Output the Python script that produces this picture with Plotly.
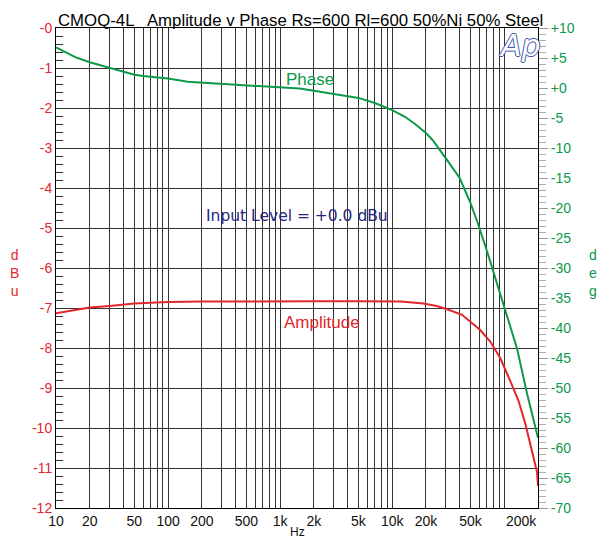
import plotly.graph_objects as go

# ---- data ----
amp_freq = [10, 15, 20, 30, 50, 70, 100, 200, 500, 1000, 2000, 5000, 10000, 12000,
            15000, 19000, 25000, 31000, 42000, 50000, 61000, 75000, 92000, 113000,
            134000, 154000, 177000, 196000, 200000]
amp_dbu = [-7.13, -7.04, -6.99, -6.95, -6.89, -6.87, -6.85, -6.84, -6.83, -6.83, -6.83,
           -6.83, -6.83, -6.84, -6.86, -6.89, -6.95, -7.03, -7.17, -7.34, -7.55, -7.84,
           -8.25, -8.82, -9.32, -9.89, -10.55, -11.1, -11.45]

ph_freq = [10, 15, 20, 30, 40, 50, 60, 80, 100, 150, 200, 300, 500, 1000, 1500, 2000,
           3000, 5000, 7000, 10000, 13000, 16000, 20000, 23000, 30000, 40000, 50000,
           58000, 71000, 100000, 130000, 160000, 200000]
ph_deg = [6.75, 5.1, 4.3, 3.35, 2.8, 2.2, 2.0, 1.8, 1.6, 1.05, 0.9, 0.75, 0.45, 0.15,
          -0.1, -0.45, -0.94, -1.65, -2.5, -3.7, -4.8, -6.0, -7.5, -8.7, -11.7, -15.0,
          -19.2, -22.5, -27.5, -36.7, -43.4, -51.0, -58.3]

x_tick_vals = [10, 20, 50, 100, 200, 500, 1000, 2000, 5000, 10000, 20000, 50000]
x_tick_text = ["10", "20", "50", "100", "200", "500", "1k", "2k", "5k", "10k", "20k", "50k"]
left_tick_vals = list(range(0, -13, -1))
left_tick_text = ["-0"] + [str(v) for v in range(-1, -13, -1)]
right_tick_vals = list(range(10, -75, -5))
right_tick_text = ["+10", "+5", "+0"] + [str(v) for v in range(-5, -75, -5)]

RED = "#e3262b"
GREEN = "#0c9a4a"
FONT = "Liberation Sans, Arial, sans-serif"

# grid frequencies 1..9 per decade
grid_freqs = []
for d in [10, 100, 1000, 10000, 100000]:
    for m in range(1, 10):
        f = d * m
        if f <= 200000:
            grid_freqs.append(f)
grid_freqs.append(200000)
grid_text = []
for f in grid_freqs:
    if f in x_tick_vals:
        grid_text.append(x_tick_text[x_tick_vals.index(f)])
    else:
        grid_text.append("")

fig = go.Figure()
fig.add_trace(go.Scatter(x=amp_freq, y=amp_dbu, mode="lines", line=dict(color=RED, width=2),
                         showlegend=False, hoverinfo="skip"))
fig.add_trace(go.Scatter(x=ph_freq, y=ph_deg, mode="lines", line=dict(color=GREEN, width=2),
                         yaxis="y2", showlegend=False, hoverinfo="skip"))

fig.update_layout(
    width=589, height=534,
    margin=dict(l=48, r=59, t=15, b=34),
    paper_bgcolor="white", plot_bgcolor="white",
    font=dict(family=FONT, size=14, color="black"),
    xaxis=dict(type="log", range=[1, 5.30103], tickmode="array",
               tickvals=grid_freqs, ticktext=grid_text,
               showgrid=True, gridcolor="#333333", gridwidth=1,
               showline=True, linecolor="black", linewidth=1, mirror=True,
               ticks="", tickfont=dict(size=14, color="#111"), zeroline=False),
    yaxis=dict(range=[-12, 0], tickmode="array", tickvals=left_tick_vals,
               ticktext=left_tick_text, tickfont=dict(size=14, color=RED),
               showgrid=True, gridcolor="#333333", gridwidth=1,
               showline=True, linecolor="black", linewidth=1,
               ticks="inside", ticklen=7, tickcolor="#333",
               minor=dict(dtick=0.2, tick0=0, ticks="inside", ticklen=7, tickcolor="#333",
                          showgrid=False),
               zeroline=False),
    yaxis2=dict(range=[-70, 10], overlaying="y", side="right", tickmode="array",
                tickvals=right_tick_vals, ticktext=right_tick_text,
                tickfont=dict(size=14, color=GREEN), showgrid=False,
                showline=True, linecolor="black", linewidth=1,
                ticks="outside", ticklen=9, tickcolor="#9a9a9a",
                minor=dict(dtick=1, tick0=0, ticks="outside", ticklen=7, tickcolor="#b0b0b0"),
                zeroline=False),
)

ann = [
    dict(text="CMOQ-4L   Amplitude v Phase Rs=600 Rl=600 50%Ni 50% Steel",
         xref="paper", yref="paper", x=0.0, y=1.0, xanchor="left", yanchor="bottom",
         yshift=-4, font=dict(size=16.8, color="black", family=FONT), showarrow=False),
    dict(text="Phase", xref="paper", yref="paper", x=0.527, y=0.893,
         xanchor="center", yanchor="middle",
         font=dict(size=17, color=GREEN), showarrow=False),
    dict(text="Amplitude", xref="paper", yref="paper", x=0.552, y=0.386,
         xanchor="center", yanchor="middle",
         font=dict(size=17, color=RED), showarrow=False),
    dict(text="Input Level = +0.0 dBu", xref="paper", yref="paper", x=0.5, y=0.608,
         xanchor="center", yanchor="middle",
         font=dict(size=15.5, color="#262680", family="DejaVu Sans"), showarrow=False),
    dict(text="d<br>B<br>u", xref="paper", yref="paper", x=-0.087, y=0.49,
         xanchor="center", yanchor="middle",
         font=dict(size=14, color=RED), showarrow=False),
    dict(text="d<br>e<br>g", xref="paper", yref="paper", x=1.115, y=0.49,
         xanchor="center", yanchor="middle",
         font=dict(size=14, color=GREEN), showarrow=False),
    dict(text="Hz", xref="paper", yref="paper", x=0.5, y=-0.0495,
         xanchor="center", yanchor="middle", borderpad=0,
         font=dict(size=12, color="#111"), showarrow=False),
    dict(text="200k", xref="paper", yref="paper", x=0.965, y=0, yanchor="top",
         xanchor="center", yshift=-3,
         font=dict(size=14, color="#111"), showarrow=False),
    dict(text="<i>Ap</i>", xref="paper", yref="paper", x=0.963, y=0.963,
         xanchor="center", yanchor="middle",
         font=dict(size=30, color="white", family="DejaVu Sans",
                   shadow="1px 0 0 #3a55a8, -1px 0 0 #3a55a8, 0 1px 0 #3a55a8, 0 -1px 0 #3a55a8"),
         showarrow=False),
]
fig.update_layout(annotations=ann)

fig.write_html("out.html")
